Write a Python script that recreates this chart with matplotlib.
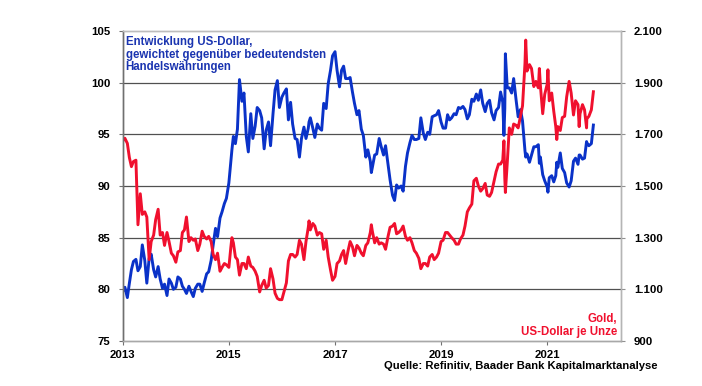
import pandas as pd
import matplotlib
matplotlib.use("Agg")
import matplotlib.pyplot as plt
from matplotlib.ticker import FuncFormatter

plt.rcParams['font.family'] = ['Liberation Sans', 'DejaVu Sans']

# halbmonatliche Stützstellen (1. und 15.), Jan 2013 - Nov 2021
dates = pd.date_range('2013-01-01', '2021-11-15', freq='SMS')

# US-Dollar-Index (linke Achse)
dxy = [
    79.8, 80.2, 79.2, 80.6, 81.9, 82.7, 82.9, 81.8, 82.2, 84.3, 82.8, 80.6, 83.0, 83.4, 81.9, 81.2, 82.2, 81.0, 80.1, 80.5, 79.4, 81.0, 80.6, 80.0,  # 2013
    80.2, 81.2, 81.0, 80.3, 80.0, 79.6, 80.3, 79.8, 79.3, 80.1, 80.5, 80.5, 79.8, 80.6, 81.5, 81.7, 82.8, 84.3, 85.9, 85.1, 86.9, 87.5, 88.3, 88.8,  # 2014
    90.3, 92.5, 94.8, 94.1, 95.5, 100.3, 98.2, 99.0, 94.8, 93.3, 97.0, 94.6, 95.8, 97.6, 97.3, 96.6, 93.6, 95.4, 96.2, 93.9, 97.0, 99.3, 100.2, 97.6,  # 2015
    98.6, 99.0, 99.4, 96.4, 98.1, 96.0, 94.6, 94.5, 92.8, 94.6, 95.7, 94.6, 95.6, 96.6, 95.6, 94.7, 96.0, 95.6, 95.4, 98.0, 97.5, 99.9, 101.2, 102.6,  # 2016
    103.0, 101.2, 99.6, 101.2, 101.6, 100.4, 100.4, 100.5, 99.1, 98.0, 96.9, 97.3, 95.5, 94.9, 92.8, 93.5, 92.4, 91.8, 93.0, 93.1, 94.6, 93.8, 93.0, 93.9,  # 2017
    92.1, 90.6, 89.1, 88.6, 90.1, 89.8, 90.0, 89.5, 91.9, 93.2, 94.2, 94.9, 94.5, 94.5, 94.6, 96.6, 95.1, 94.5, 95.2, 95.0, 96.7, 96.8, 96.9, 97.3,  # 2018
    96.2, 95.6, 95.6, 96.9, 96.4, 96.6, 97.0, 96.9, 97.6, 97.5, 97.7, 97.4, 96.5, 96.9, 98.4, 98.2, 98.9, 98.3, 99.3, 98.0, 97.2, 98.0, 98.3, 97.1,  # 2019
    96.4, 97.3, 97.6, 99.1, 98.1, 97.5, 99.5, 99.5, 99.0, 100.4, 98.3, 96.7, 97.4, 96.3, 93.4, 93.1, 92.3, 93.0, 93.8, 93.8, 94.0, 92.8, 91.1, 90.5,  # 2020
    89.9, 90.8, 91.0, 90.4, 91.0, 91.8, 93.2, 91.7, 91.3, 90.3, 89.9, 90.5, 92.4, 92.7, 92.1, 93.0, 92.6, 92.7, 94.2, 93.9, 94.1, 95.9,  # 2021
]

# Gold in US-Dollar je Unze (rechte Achse)
gold = [
    1675, 1685, 1665, 1610, 1575, 1595, 1600, 1350, 1470, 1390, 1400, 1380, 1215, 1285, 1310, 1370, 1410, 1310, 1320, 1270, 1320, 1285, 1240, 1230,  # 2013
    1205, 1245, 1250, 1320, 1330, 1380, 1285, 1300, 1290, 1295, 1250, 1275, 1325, 1305, 1295, 1305, 1285, 1235, 1215, 1240, 1170, 1185, 1200, 1195,  # 2014
    1185, 1265, 1280, 1225, 1215, 1155, 1200, 1200, 1180, 1225, 1190, 1185, 1170, 1150, 1090, 1115, 1135, 1105, 1115, 1180, 1140, 1085, 1065, 1060,  # 2015
    1060, 1090, 1125, 1210, 1235, 1235, 1225, 1235, 1290, 1275, 1215, 1285, 1340, 1330, 1355, 1345, 1310, 1320, 1315, 1255, 1290, 1225, 1175, 1135,  # 2016
    1150, 1200, 1210, 1235, 1250, 1200, 1250, 1285, 1265, 1230, 1270, 1260, 1240, 1230, 1270, 1280, 1320, 1325, 1280, 1300, 1275, 1280, 1275, 1255,  # 2017
    1305, 1340, 1345, 1355, 1315, 1320, 1330, 1345, 1305, 1290, 1300, 1280, 1250, 1240, 1220, 1180, 1200, 1200, 1190, 1225, 1235, 1215, 1225, 1240,  # 2018
    1285, 1290, 1320, 1320, 1310, 1300, 1290, 1275, 1275, 1295, 1310, 1345, 1400, 1415, 1430, 1520, 1530, 1500, 1480, 1490, 1510, 1465, 1460, 1475,  # 2019
    1520, 1555, 1585, 1585, 1600, 1530, 1590, 1725, 1700, 1740, 1735, 1725, 1770, 1810, 1975, 1945, 1970, 1955, 1885, 1905, 1880, 1890, 1780, 1855,  # 2020
    1895, 1830, 1860, 1790, 1730, 1730, 1715, 1765, 1770, 1845, 1905, 1860, 1775, 1830, 1815, 1780, 1815, 1795, 1760, 1770, 1795, 1865,  # 2021
]

# zusätzliche Stützstellen an markanten Spitzen
extra_dates = ['2015-01-22', '2016-07-06', '2017-09-08', '2020-03-09', '2020-03-19',
               '2020-08-06', '2020-11-08', '2021-01-06', '2021-03-08', '2021-08-09', '2021-09-29']
extra_dxy = [93.5, 96.2, 91.3, 94.9, 102.8, 92.8, 92.2, 89.4, 92.3, 93.0, 94.3]
extra_gold = [1300, 1365, 1350, 1675, 1475, 2065, 1955, 1950, 1680, 1730, 1725]

df = pd.DataFrame({'date': dates, 'dxy': dxy, 'gold': gold})
ex = pd.DataFrame({'date': pd.to_datetime(extra_dates), 'dxy': extra_dxy, 'gold': extra_gold})
df = pd.concat([df, ex]).sort_values('date')

year_ticks = [2013, 2015, 2017, 2019, 2021]

blue = '#0a32c8'
red = '#f0102e'

fig = plt.figure(figsize=(7.02, 3.86), dpi=100)
ax = fig.add_axes([0.175, 0.1166, 0.71, 0.803])
ax2 = ax.twinx()

ax.plot(df['date'], df['dxy'], color=blue, lw=2.1, solid_joinstyle='round')
ax2.plot(df['date'], df['gold'], color=red, lw=2.1, solid_joinstyle='round')

ax.set_xlim(pd.Timestamp('2013-01-01'), pd.Timestamp('2022-05-26'))
ax.set_ylim(75, 105)
ax2.set_ylim(900, 2100)
ax.set_yticks(range(75, 106, 5))
ax2.set_yticks(range(900, 2101, 200))
ax2.yaxis.set_major_formatter(FuncFormatter(lambda v, p: f'{v:,.0f}'.replace(',', '.')))
ax.set_xticks([pd.Timestamp(f'{y}-01-01') for y in year_ticks])
ax.set_xticklabels([str(y) for y in year_ticks])

ax.grid(axis='y', color='#505050', lw=0.9)
gl = ax.get_ygridlines()
gl[0].set_visible(False)
gl[-1].set_visible(False)

for a in (ax, ax2):
    a.spines['top'].set_color('#bdbdbd')
    a.spines['right'].set_color('#b5b5b5')
    a.spines['left'].set_color('#707070')
    a.spines['bottom'].set_color('#a8a8a8')
    for s in a.spines.values():
        s.set_linewidth(1.0)

ax.tick_params(axis='y', length=3, pad=6, width=0.8, color='#707070', labelsize=8.2)
ax2.tick_params(axis='y', length=3, pad=6, width=0.8, color='#909090', labelsize=8.2)
ax.tick_params(axis='x', length=3, pad=3.5, width=0.8, color='#707070', labelsize=8.2)
for lab in ax.get_yticklabels() + ax2.get_yticklabels() + ax.get_xticklabels():
    lab.set_fontweight('bold')

fig.text(0.179, 0.906, 'Entwicklung US-Dollar,\ngewichtet gegenüber bedeutendsten\nHandelswährungen',
         color='#1a34b0', fontsize=8.3, fontweight='bold', va='top', ha='left', linespacing=1.05)
fig.text(0.879, 0.124, 'Gold,\nUS-Dollar je Unze', color=red, fontsize=8.3,
         fontweight='bold', va='bottom', ha='right', linespacing=1.1)
fig.text(0.937, 0.053, 'Quelle: Refinitiv, Baader Bank Kapitalmarktanalyse', color='black',
         fontsize=8.1, fontweight='bold', va='center', ha='right')

fig.savefig('out.png', dpi=100)
